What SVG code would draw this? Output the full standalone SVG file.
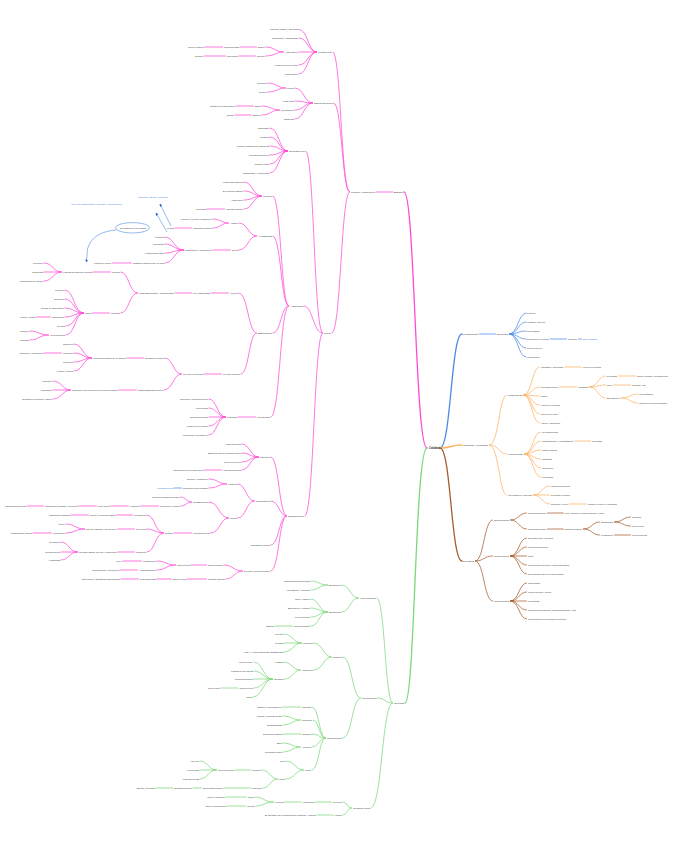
<svg xmlns="http://www.w3.org/2000/svg" width="698" height="848" viewBox="0 0 698 848">
<defs>
<style>
.t text{font-family:"Liberation Sans",Arial,sans-serif;font-size:2.5px;fill:#333}
.t .bt{fill:#3b7ddd}
.t .root{font-size:2.8px;font-weight:bold;fill:#222}
#connectors path{fill:none;stroke-width:.75;stroke-linecap:round}
#connectors .k{stroke-width:1.3}
.m path{stroke:#ff4ad6}
.b path{stroke:#4a8be8}
.o path{stroke:#ffb264}
.w path{stroke:#a85c2c}
.g path{stroke:#7ad87a}
.ann{fill:none;stroke:#4a8be8;stroke-width:.6}
</style>
<marker id="ab" viewBox="0 0 6 6" refX="5" refY="3" markerWidth="5" markerHeight="5" orient="auto"><path d="M0 0L6 3L0 6z" fill="#2d6fd8"/></marker>
</defs>
<rect width="698" height="848" fill="#fff"/>
<g id="connectors">
<g class="m">
<path class="k" d="M427 448C415 448 415 192 404 192"/>
<path d="M376 192H393"/>
<path d="M333 52C341 52 341 192 349.5 192"/>
<path d="M334 103C342 103 342 192 349.5 192"/>
<path d="M332 333C341 333 341 192 349.5 192"/>
<path d="M299 29.5C308 29.5 308 52 316.5 52"/>
<path d="M299 38C308 38 308 52 316.5 52"/>
<path d="M299 52H316.5"/>
<path d="M299 65C308 65 308 52 316.5 52"/>
<path d="M299 74C308 74 308 52 316.5 52"/>
<path d="M266 47C275 47 275 52 283.5 52"/>
<path d="M266 56C275 56 275 52 283.5 52"/>
<path d="M240 47H256.5"/>
<path d="M205 47H222.5"/>
<path d="M239 56H255.5"/>
<path d="M204 56H225.5"/>
<path d="M295 88C304 88 304 103 312.5 103"/>
<path d="M295 101C304 101 304 103 312.5 103"/>
<path d="M295 110C304 110 304 103 312.5 103"/>
<path d="M295 119C304 119 304 103 312.5 103"/>
<path d="M268 83C277 83 277 88 285.5 88"/>
<path d="M268 92C277 92 277 88 285.5 88"/>
<path d="M262 106C271 106 271 110 279.5 110"/>
<path d="M262 115C271 115 271 110 279.5 110"/>
<path d="M236 106H253.5"/>
<path d="M235 115H251.5"/>
<path d="M306 151C314 151 314 333 322.5 333"/>
<path d="M304 306C313 306 313 333 322.5 333"/>
<path d="M305 516C314 516 314 333 322.5 333"/>
<path d="M270 128C279 128 279 151 287.5 151"/>
<path d="M270 137C279 137 279 151 287.5 151"/>
<path d="M270 146C279 146 279 151 287.5 151"/>
<path d="M270 155C279 155 279 151 287.5 151"/>
<path d="M270 164C279 164 279 151 287.5 151"/>
<path d="M270 173C279 173 279 151 287.5 151"/>
<path d="M273 196C281 196 281 306 288.5 306"/>
<path d="M273 236C281 236 281 306 288.5 306"/>
<path d="M273 333C281 333 281 306 288.5 306"/>
<path d="M271 417C280 417 280 306 288.5 306"/>
<path d="M244 182C253 182 253 196 261.5 196"/>
<path d="M244 191C253 191 253 196 261.5 196"/>
<path d="M244 200C253 200 253 196 261.5 196"/>
<path d="M244 209C253 209 253 196 261.5 196"/>
<path d="M207 209H224.5"/>
<path d="M239 223C248 223 248 236 256.5 236"/>
<path d="M239 250C248 250 248 236 256.5 236"/>
<path d="M213 219C221 219 221 223 228.5 223"/>
<path d="M213 228C221 228 221 223 228.5 223"/>
<path d="M175 228H191.5"/>
<path d="M213 250H230.5"/>
<path d="M165 237C174 237 174 250 183.5 250"/>
<path d="M165 244C174 244 174 250 183.5 250"/>
<path d="M165 253C174 253 174 250 183.5 250"/>
<path d="M165 263C174 263 174 250 183.5 250"/>
<path d="M112 263H131.5"/>
<path d="M239 293C248 293 248 333 256.5 333"/>
<path d="M241 374C249 374 249 333 256.5 333"/>
<path d="M211 293H228.5"/>
<path d="M175 293H191.5"/>
<path d="M121 272C129 272 129 293 137.5 293"/>
<path d="M121 313C129 313 129 293 137.5 293"/>
<path d="M93 272H110.5"/>
<path d="M44 263C53 263 53 272 61.5 272"/>
<path d="M44 272H61.5"/>
<path d="M44 281C53 281 53 272 61.5 272"/>
<path d="M92 313H109.5"/>
<path d="M65 290C74 290 74 313 83.5 313"/>
<path d="M65 299C74 299 74 313 83.5 313"/>
<path d="M65 308C74 308 74 313 83.5 313"/>
<path d="M65 317C74 317 74 313 83.5 313"/>
<path d="M66 326C75 326 75 313 83.5 313"/>
<path d="M66 335C75 335 75 313 83.5 313"/>
<path d="M36 317H50.5"/>
<path d="M30 331C39 331 39 335 48.5 335"/>
<path d="M30 340C39 340 39 335 48.5 335"/>
<path d="M204 374H221.5"/>
<path d="M165 358C173 358 173 374 181.5 374"/>
<path d="M164 390C173 390 173 374 181.5 374"/>
<path d="M127 358H143.5"/>
<path d="M74 344C83 344 83 358 91.5 358"/>
<path d="M74 353C83 353 83 358 91.5 358"/>
<path d="M74 362C83 362 83 358 91.5 358"/>
<path d="M74 371C83 371 83 358 91.5 358"/>
<path d="M44 353H61.5"/>
<path d="M119 390H136.5"/>
<path d="M53 381C62 381 62 390 70.5 390"/>
<path d="M53 390H70.5"/>
<path d="M53 399C62 399 62 390 70.5 390"/>
<path d="M238 417H255.5"/>
<path d="M209 399C217 399 217 417 225.5 417"/>
<path d="M209 408C217 408 217 417 225.5 417"/>
<path d="M209 417H225.5"/>
<path d="M209 426C217 426 217 417 225.5 417"/>
<path d="M209 435C217 435 217 417 225.5 417"/>
<path d="M271 457C279 457 279 516 286.5 516"/>
<path d="M271 501C279 501 279 516 286.5 516"/>
<path d="M271 545C279 545 279 516 286.5 516"/>
<path d="M271 571C279 571 279 516 286.5 516"/>
<path d="M242 444C250 444 250 457 258.5 457"/>
<path d="M242 453C250 453 250 457 258.5 457"/>
<path d="M242 462C250 462 250 457 258.5 457"/>
<path d="M242 470C250 470 250 457 258.5 457"/>
<path d="M204 470H221.5"/>
<path d="M238 484C246 484 246 501 254.5 501"/>
<path d="M238 518C246 518 246 501 254.5 501"/>
<path d="M209 479C218 479 218 484 226.5 484"/>
<path d="M209 488C218 488 218 484 226.5 484"/>
<path d="M209 502C219 502 219 518 228.5 518"/>
<path d="M211 533C220 533 220 518 228.5 518"/>
<path d="M181 497C186 497 186 502 191.5 502"/>
<path d="M181 506C186 506 186 502 191.5 502"/>
<path d="M141 506H158.5"/>
<path d="M111 506H128.5"/>
<path d="M79 506H96.5"/>
<path d="M27 506H43.5"/>
<path d="M174 533H191.5"/>
<path d="M147 515C155 515 155 533 163.5 533"/>
<path d="M147 529C155 529 155 533 163.5 533"/>
<path d="M147 552C155 552 155 533 163.5 533"/>
<path d="M116 515H132.5"/>
<path d="M71 515H88.5"/>
<path d="M118 529H134.5"/>
<path d="M66 524C75 524 75 529 84.5 529"/>
<path d="M66 533C75 533 75 529 84.5 529"/>
<path d="M33 533H51.5"/>
<path d="M118 552H134.5"/>
<path d="M61 542C69 542 69 552 77.5 552"/>
<path d="M61 552H77.5"/>
<path d="M61 560C69 560 69 552 77.5 552"/>
<path d="M224 565C233 565 233 571 242.5 571"/>
<path d="M226 579C234 579 234 571 242.5 571"/>
<path d="M191 565H206.5"/>
<path d="M157 561C166 561 166 565 175.5 565"/>
<path d="M157 570C166 570 166 565 175.5 565"/>
<path d="M123 561H141.5"/>
<path d="M120 570H137.5"/>
<path d="M187 579H206.5"/>
<path d="M157 579H171.5"/>
<path d="M121 579H138.5"/>
</g>
<g class="g">
<path class="k" d="M427 448C415 448 415 703 405 703"/>
<path d="M377 598C385 598 385 703 392.5 703"/>
<path d="M378 698C385 698 385 703 392.5 703"/>
<path d="M371 808C382 808 382 703 392.5 703"/>
<path d="M342 585C350 585 350 598 358.5 598"/>
<path d="M342 612C350 612 350 598 358.5 598"/>
<path d="M311 581C319 581 319 585 327.5 585"/>
<path d="M311 590C319 590 319 585 327.5 585"/>
<path d="M311 599C319 599 319 612 327.5 612"/>
<path d="M311 608C319 608 319 612 327.5 612"/>
<path d="M311 617C319 617 319 612 327.5 612"/>
<path d="M311 626C319 626 319 612 327.5 612"/>
<path d="M275 626H292.5"/>
<path d="M343 657C352 657 352 698 360.5 698"/>
<path d="M343 738C352 738 352 698 360.5 698"/>
<path d="M314 643C323 643 323 657 331.5 657"/>
<path d="M314 670C323 670 323 657 331.5 657"/>
<path d="M284 634C293 634 293 643 301.5 643"/>
<path d="M284 643H301.5"/>
<path d="M284 652C293 652 293 643 301.5 643"/>
<path d="M284 662C292 662 292 670 300.5 670"/>
<path d="M285 679C293 679 293 670 300.5 670"/>
<path d="M254 662C263 662 263 679 272.5 679"/>
<path d="M254 671C263 671 263 679 272.5 679"/>
<path d="M254 679H272.5"/>
<path d="M254 688C263 688 263 679 272.5 679"/>
<path d="M253 697C263 697 263 679 272.5 679"/>
<path d="M221 688H237.5"/>
<path d="M312 707C319 707 319 738 325.5 738"/>
<path d="M313 720C319 720 319 738 325.5 738"/>
<path d="M312 734C319 734 319 738 325.5 738"/>
<path d="M312 747C319 747 319 738 325.5 738"/>
<path d="M312 770C319 770 319 738 325.5 738"/>
<path d="M283 707H300.5"/>
<path d="M283 716C292 716 292 720 300.5 720"/>
<path d="M283 725C292 725 292 720 300.5 720"/>
<path d="M284 734H301.5"/>
<path d="M283 743C292 743 292 747 300.5 747"/>
<path d="M283 752C292 752 292 747 300.5 747"/>
<path d="M286 761C295 761 295 770 303.5 770"/>
<path d="M286 779C295 779 295 770 303.5 770"/>
<path d="M262 770C270 770 270 779 277.5 779"/>
<path d="M263 788C270 788 270 779 277.5 779"/>
<path d="M235 770H250.5"/>
<path d="M200 761C208 761 208 770 216.5 770"/>
<path d="M200 770H216.5"/>
<path d="M200 779C208 779 208 770 216.5 770"/>
<path d="M224 788H250.5"/>
<path d="M193 788H201.5"/>
<path d="M156 788H172.5"/>
<path d="M343 802C347 802 347 808 351.5 808"/>
<path d="M343 815C347 815 347 808 351.5 808"/>
<path d="M316 802H331.5"/>
<path d="M285 802H301.5"/>
<path d="M255 797C264 797 264 802 273.5 802"/>
<path d="M256 806C264 806 264 802 273.5 802"/>
<path d="M226 797H246.5"/>
<path d="M227 806H245.5"/>
<path d="M317 815H333.5"/>
</g>
<g class="b">
<path class="k" d="M440 448C451 448 451 334 462 334"/>
<path d="M479.5 334H495.5"/>
<path d="M509.5 334C518 334 518 313 526 313"/>
<path d="M509.5 334C518 334 518 322 526 322"/>
<path d="M509.5 334C518 334 518 331 526 331"/>
<path d="M509.5 334C518 334 518 339 526 339"/>
<path d="M509.5 334C518 334 518 348 526 348"/>
<path d="M509.5 334C518 334 518 357 526 357"/>
<path d="M550.5 339H566.5"/>
<path d="M578.5 339H581.5"/>
<path d="M174 488H181.5"/>
</g>
<g class="o">
<path class="k" d="M440 448C451 448 451 445 462 445"/>
<path d="M489.5 445C499 445 499 395 506.5 395"/>
<path d="M489.5 445C499 445 499 454 506.5 454"/>
<path d="M489.5 445C499 445 499 495 506.5 495"/>
<path d="M523.5 395C532 395 532 367 539.5 367"/>
<path d="M523.5 395C532 395 532 387 539.5 387"/>
<path d="M523.5 395C532 395 532 396 539.5 396"/>
<path d="M523.5 395C532 395 532 405 539.5 405"/>
<path d="M523.5 395C532 395 532 414 539.5 414"/>
<path d="M523.5 395C532 395 532 423 539.5 423"/>
<path d="M564.5 367H581.5"/>
<path d="M559.5 387H576.5"/>
<path d="M589.5 387C598 387 598 376 605.5 376"/>
<path d="M589.5 387C598 387 598 385 605.5 385"/>
<path d="M589.5 387C598 387 598 398 605.5 398"/>
<path d="M618.5 376H635.5"/>
<path d="M613.5 385H630.5"/>
<path d="M621.5 398C630 398 630 394 637.5 394"/>
<path d="M621.5 398C630 398 630 403 637.5 403"/>
<path d="M524.5 454C533 454 533 432 540.5 432"/>
<path d="M524.5 454C533 454 533 441 540.5 441"/>
<path d="M524.5 454C533 454 533 450 540.5 450"/>
<path d="M524.5 454C533 454 533 459 540.5 459"/>
<path d="M524.5 454C533 454 533 468 540.5 468"/>
<path d="M524.5 454C533 454 533 477 540.5 477"/>
<path d="M574.5 441H590.5"/>
<path d="M533.5 495C542 495 542 486 549.5 486"/>
<path d="M533.5 495H549.5"/>
<path d="M533.5 495C542 495 542 504 549.5 504"/>
<path d="M569.5 504H586.5"/>
</g>
<g class="w">
<path class="k" d="M440 448C451 448 451 561 462 561"/>
<path d="M475.5 561C484 561 484 520 492.5 520"/>
<path d="M475.5 561C484 561 484 556 492.5 556"/>
<path d="M475.5 561C484 561 484 601 492.5 601"/>
<path d="M510.5 520C519 520 519 513 526.5 513"/>
<path d="M510.5 520C519 520 519 529 526.5 529"/>
<path d="M547.5 513H563.5"/>
<path d="M547.5 529H563.5"/>
<path d="M583.5 529C592 529 592 522 599.5 522"/>
<path d="M583.5 529C592 529 592 535 599.5 535"/>
<path d="M614.5 522C623 522 623 517 630.5 517"/>
<path d="M614.5 522C623 522 623 526 630.5 526"/>
<path d="M614.5 535H630.5"/>
<path d="M510.5 556C519 556 519 538 526.5 538"/>
<path d="M510.5 556C519 556 519 547 526.5 547"/>
<path d="M510.5 556H526.5"/>
<path d="M510.5 556C519 556 519 565 526.5 565"/>
<path d="M510.5 556C519 556 519 574 526.5 574"/>
<path d="M510.5 601C519 601 519 583 526.5 583"/>
<path d="M510.5 601C519 601 519 592 526.5 592"/>
<path d="M510.5 601H526.5"/>
<path d="M510.5 601C519 601 519 610 526.5 610"/>
<path d="M510.5 601C519 601 519 619 526.5 619"/>
</g>
</g>
<g id="annotations">
<ellipse class="ann" cx="132.5" cy="227.8" rx="17" ry="5.2"/>
<path class="ann" d="M116 230C103 231 91 236 87.5 249L86.5 262" marker-end="url(#ab)"/>
<path class="ann" d="M171 226L160 204" marker-end="url(#ab)"/>
<path class="ann" d="M167 232L156 213" marker-end="url(#ab)"/>
</g>
<g id="nodes" class="t">
<g id="root"><text class="root" x="429" y="449" textLength="11" lengthAdjust="spacingAndGlyphs">Ciudadanía</text></g>
<g id="m1"><text x="394" y="192.9" textLength="9" lengthAdjust="spacingAndGlyphs">Estado</text></g>
<g id="m2"><text x="351" y="192.9" textLength="24" lengthAdjust="spacingAndGlyphs">políticas y organización</text></g>
<g id="m3"><text x="318" y="52.9" textLength="14" lengthAdjust="spacingAndGlyphs">Constituyente</text></g>
<g id="m3a"><text x="270" y="30.4" textLength="28" lengthAdjust="spacingAndGlyphs">Más allá: estado y sociedad</text></g>
<g id="m3b"><text x="272" y="38.9" textLength="26" lengthAdjust="spacingAndGlyphs">significado y significante</text></g>
<g id="m3c"><text x="285" y="52.9" textLength="13" lengthAdjust="spacingAndGlyphs">Ambientación</text></g>
<g id="m3c1"><text x="258" y="47.9" textLength="7" lengthAdjust="spacingAndGlyphs">Difícil</text></g>
<g id="m3c1a"><text x="224" y="47.9" textLength="15" lengthAdjust="spacingAndGlyphs">gobernabilidad</text></g>
<g id="m3c1b"><text x="188" y="47.9" textLength="16" lengthAdjust="spacingAndGlyphs">lógica de resistencia</text></g>
<g id="m3c2"><text x="257" y="56.9" textLength="8" lengthAdjust="spacingAndGlyphs">Eficiente</text></g>
<g id="m3c2a"><text x="227" y="56.9" textLength="11" lengthAdjust="spacingAndGlyphs">gobernanza</text></g>
<g id="m3c2b"><text x="195" y="56.9" textLength="8" lengthAdjust="spacingAndGlyphs">Regulador</text></g>
<g id="m3d"><text x="275" y="65.9" textLength="23" lengthAdjust="spacingAndGlyphs">relación teoría del poder</text></g>
<g id="m3e"><text x="285" y="74.9" textLength="13" lengthAdjust="spacingAndGlyphs">consolidación</text></g>
<g id="m4"><text x="314" y="103.9" textLength="19" lengthAdjust="spacingAndGlyphs">Estructuras sociales</text></g>
<g id="m4a"><text x="287" y="88.9" textLength="7" lengthAdjust="spacingAndGlyphs">sectores</text></g>
<g id="m4a1"><text x="257" y="83.9" textLength="10" lengthAdjust="spacingAndGlyphs">acciones</text></g>
<g id="m4a2"><text x="259" y="92.9" textLength="8" lengthAdjust="spacingAndGlyphs">formación</text></g>
<g id="m4b"><text x="283" y="101.9" textLength="11" lengthAdjust="spacingAndGlyphs">Más allá</text></g>
<g id="m4c"><text x="281" y="110.9" textLength="13" lengthAdjust="spacingAndGlyphs">Implementación</text></g>
<g id="m4c1"><text x="255" y="106.9" textLength="6" lengthAdjust="spacingAndGlyphs">Ética</text></g>
<g id="m4c1a"><text x="210" y="106.9" textLength="25" lengthAdjust="spacingAndGlyphs">gestión en lógica social</text></g>
<g id="m4c2"><text x="253" y="115.9" textLength="8" lengthAdjust="spacingAndGlyphs">Difícil</text></g>
<g id="m4c2a"><text x="227" y="115.9" textLength="7" lengthAdjust="spacingAndGlyphs">agente</text></g>
<g id="m4d"><text x="284" y="119.9" textLength="10" lengthAdjust="spacingAndGlyphs">Sistema</text></g>
<g id="m5"><text x="324" y="333.9" textLength="7" lengthAdjust="spacingAndGlyphs">Sujeto</text></g>
<g id="m6"><text x="289" y="151.9" textLength="16" lengthAdjust="spacingAndGlyphs">Sociedad civil</text></g>
<g id="m6a"><text x="258" y="128.9" textLength="11" lengthAdjust="spacingAndGlyphs">Regulador</text></g>
<g id="m6b"><text x="260" y="137.9" textLength="9" lengthAdjust="spacingAndGlyphs">Identidad</text></g>
<g id="m6c"><text x="237" y="146.9" textLength="32" lengthAdjust="spacingAndGlyphs">Lucha: conflicto por agencias</text></g>
<g id="m6d"><text x="249" y="155.9" textLength="20" lengthAdjust="spacingAndGlyphs">Más agencias sociales</text></g>
<g id="m6e"><text x="254" y="164.9" textLength="15" lengthAdjust="spacingAndGlyphs">Ventaja de poder</text></g>
<g id="m6f"><text x="243" y="173.9" textLength="26" lengthAdjust="spacingAndGlyphs">significado y referencia</text></g>
<g id="m7"><text x="290" y="306.9" textLength="13" lengthAdjust="spacingAndGlyphs">Agencia</text></g>
<g id="m8"><text x="263" y="196.9" textLength="9" lengthAdjust="spacingAndGlyphs">procesos</text></g>
<g id="m8a"><text x="223" y="182.9" textLength="20" lengthAdjust="spacingAndGlyphs">Más participación</text></g>
<g id="m8b"><text x="223" y="191.9" textLength="20" lengthAdjust="spacingAndGlyphs">El principal agente</text></g>
<g id="m8c"><text x="231" y="200.9" textLength="12" lengthAdjust="spacingAndGlyphs">Ámbito simple</text></g>
<g id="m8d"><text x="226" y="209.9" textLength="17" lengthAdjust="spacingAndGlyphs">resultado informe</text></g>
<g id="m8d1"><text x="195" y="209.9" textLength="11" lengthAdjust="spacingAndGlyphs">Agencias</text></g>
<g id="m9"><text x="258" y="236.9" textLength="14" lengthAdjust="spacingAndGlyphs">Ámbitos</text></g>
<g id="m10"><text x="230" y="223.9" textLength="8" lengthAdjust="spacingAndGlyphs">Ámbito</text></g>
<g id="m10a"><text x="181" y="219.9" textLength="31" lengthAdjust="spacingAndGlyphs">genérico, expresión, organización</text></g>
<g id="m10b"><text x="193" y="228.9" textLength="19" lengthAdjust="spacingAndGlyphs">organización interna</text></g>
<g id="m10b1"><text x="167" y="228.9" textLength="7" lengthAdjust="spacingAndGlyphs">Políticas</text></g>
<g id="a1"><text x="120" y="228.7" textLength="26" lengthAdjust="spacingAndGlyphs">Diversidad de la diversidad</text></g>
<g id="a2"><text class="bt" x="138" y="197.9" textLength="30" lengthAdjust="spacingAndGlyphs">Inmerso, interno, atención</text></g>
<g id="a3"><text class="bt" x="70" y="204.9" textLength="52" lengthAdjust="spacingAndGlyphs">Apoyo de significación, análisis y reproducción</text></g>
<g id="m11"><text x="232" y="250.9" textLength="6" lengthAdjust="spacingAndGlyphs">Brecha</text></g>
<g id="m11a"><text x="185" y="250.9" textLength="27" lengthAdjust="spacingAndGlyphs">globalización y participación</text></g>
<g id="m11a1"><text x="155" y="237.9" textLength="9" lengthAdjust="spacingAndGlyphs">Ideologías</text></g>
<g id="m11a2"><text x="153" y="244.9" textLength="11" lengthAdjust="spacingAndGlyphs">Caso Bautista</text></g>
<g id="m11a3"><text x="145" y="253.9" textLength="19" lengthAdjust="spacingAndGlyphs">Fundamentos de ética</text></g>
<g id="m11a4"><text x="133" y="263.9" textLength="31" lengthAdjust="spacingAndGlyphs">gestión pública de la vida</text></g>
<g id="m11a4a"><text x="94" y="263.9" textLength="17" lengthAdjust="spacingAndGlyphs">Formación de contexto</text></g>
<g id="m12"><text x="258" y="333.9" textLength="14" lengthAdjust="spacingAndGlyphs">Estructura</text></g>
<g id="m13"><text x="230" y="293.9" textLength="8" lengthAdjust="spacingAndGlyphs">Lo social</text></g>
<g id="m13a"><text x="193" y="293.9" textLength="17" lengthAdjust="spacingAndGlyphs">Lo ubicado</text></g>
<g id="m13b"><text x="139" y="293.9" textLength="35" lengthAdjust="spacingAndGlyphs">Más significativo, más sentido</text></g>
<g id="m14"><text x="112" y="272.9" textLength="8" lengthAdjust="spacingAndGlyphs">Identidad</text></g>
<g id="m14a"><text x="63" y="272.9" textLength="29" lengthAdjust="spacingAndGlyphs">Formas sociales de grupos</text></g>
<g id="m14a1"><text x="33" y="263.9" textLength="10" lengthAdjust="spacingAndGlyphs">Pertenencia</text></g>
<g id="m14a2"><text x="32" y="272.9" textLength="11" lengthAdjust="spacingAndGlyphs">Continuidad</text></g>
<g id="m14a3"><text x="20" y="281.9" textLength="23" lengthAdjust="spacingAndGlyphs">Significados del mundo</text></g>
<g id="m15"><text x="111" y="313.9" textLength="9" lengthAdjust="spacingAndGlyphs">Identidad</text></g>
<g id="m15a"><text x="85" y="313.9" textLength="6" lengthAdjust="spacingAndGlyphs">Valores</text></g>
<g id="m15a1"><text x="55" y="290.9" textLength="9" lengthAdjust="spacingAndGlyphs">Permanencia</text></g>
<g id="m15a2"><text x="54" y="299.9" textLength="10" lengthAdjust="spacingAndGlyphs">Continuidad</text></g>
<g id="m15a3"><text x="41" y="308.9" textLength="23" lengthAdjust="spacingAndGlyphs">Sentido de participación</text></g>
<g id="m15a4"><text x="52" y="317.9" textLength="12" lengthAdjust="spacingAndGlyphs">Tradiciones</text></g>
<g id="m15a4a"><text x="20" y="317.9" textLength="15" lengthAdjust="spacingAndGlyphs">Lenguaje y arraigo</text></g>
<g id="m15a5"><text x="57" y="326.9" textLength="8" lengthAdjust="spacingAndGlyphs">Intereses</text></g>
<g id="m15a6"><text x="50" y="335.9" textLength="15" lengthAdjust="spacingAndGlyphs">Valores personales</text></g>
<g id="m15a6a"><text x="20" y="331.9" textLength="9" lengthAdjust="spacingAndGlyphs">Relaciones</text></g>
<g id="m15a6b"><text x="20" y="340.9" textLength="9" lengthAdjust="spacingAndGlyphs">Desigualdad</text></g>
<g id="m16"><text x="223" y="374.9" textLength="17" lengthAdjust="spacingAndGlyphs">La vida cultural</text></g>
<g id="m16a"><text x="183" y="374.9" textLength="20" lengthAdjust="spacingAndGlyphs">La vida en sociedad</text></g>
<g id="m17"><text x="145" y="358.9" textLength="19" lengthAdjust="spacingAndGlyphs">Desarrollo cultural</text></g>
<g id="m17a"><text x="93" y="358.9" textLength="33" lengthAdjust="spacingAndGlyphs">Formas sociales de la cultura</text></g>
<g id="m17a1"><text x="63" y="344.9" textLength="10" lengthAdjust="spacingAndGlyphs">Tradiciones</text></g>
<g id="m17a2"><text x="63" y="353.9" textLength="10" lengthAdjust="spacingAndGlyphs">Costumbres</text></g>
<g id="m17a2a"><text x="20" y="353.9" textLength="23" lengthAdjust="spacingAndGlyphs">Educación y organización</text></g>
<g id="m17a3"><text x="63" y="362.9" textLength="10" lengthAdjust="spacingAndGlyphs">La sociedad</text></g>
<g id="m17a4"><text x="57" y="371.9" textLength="16" lengthAdjust="spacingAndGlyphs">Lenguaje y símbolos</text></g>
<g id="m18"><text x="138" y="390.9" textLength="25" lengthAdjust="spacingAndGlyphs">Responsabilidad social</text></g>
<g id="m18a"><text x="72" y="390.9" textLength="46" lengthAdjust="spacingAndGlyphs">Conjunto de valores a través de los cuales se organiza</text></g>
<g id="m18a1"><text x="42" y="381.9" textLength="10" lengthAdjust="spacingAndGlyphs">Mecanismos</text></g>
<g id="m18a2"><text x="41" y="390.9" textLength="11" lengthAdjust="spacingAndGlyphs">Costumbres</text></g>
<g id="m18a3"><text x="22" y="399.9" textLength="30" lengthAdjust="spacingAndGlyphs">Igualdad de derechos y justicia</text></g>
<g id="m19"><text x="257" y="417.9" textLength="13" lengthAdjust="spacingAndGlyphs">Colectividad</text></g>
<g id="m19a"><text x="227" y="417.9" textLength="10" lengthAdjust="spacingAndGlyphs">Comunidad</text></g>
<g id="m19a1"><text x="180" y="399.9" textLength="28" lengthAdjust="spacingAndGlyphs">Conciencia y organización social</text></g>
<g id="m19a2"><text x="196" y="408.9" textLength="12" lengthAdjust="spacingAndGlyphs">La sociedad</text></g>
<g id="m19a3"><text x="189" y="417.9" textLength="19" lengthAdjust="spacingAndGlyphs">Agrupación social</text></g>
<g id="m19a4"><text x="187" y="426.9" textLength="21" lengthAdjust="spacingAndGlyphs">Relación con el entorno</text></g>
<g id="m19a5"><text x="183" y="435.9" textLength="25" lengthAdjust="spacingAndGlyphs">Comunidad y sociedad civil</text></g>
<g id="m20"><text x="288" y="516.9" textLength="16" lengthAdjust="spacingAndGlyphs">Organización</text></g>
<g id="m21"><text x="260" y="457.9" textLength="10" lengthAdjust="spacingAndGlyphs">Instituciones</text></g>
<g id="m21a"><text x="226" y="444.9" textLength="15" lengthAdjust="spacingAndGlyphs">Otras ideológicas</text></g>
<g id="m21b"><text x="208" y="453.9" textLength="33" lengthAdjust="spacingAndGlyphs">Establecimiento de la estructura social</text></g>
<g id="m21c"><text x="224" y="462.9" textLength="17" lengthAdjust="spacingAndGlyphs">Relación con la teoría</text></g>
<g id="m21d"><text x="223" y="470.9" textLength="18" lengthAdjust="spacingAndGlyphs">Valores sociales</text></g>
<g id="m21d1"><text x="173" y="470.9" textLength="30" lengthAdjust="spacingAndGlyphs">Independencia de la crisis social</text></g>
<g id="m22"><text x="256" y="501.9" textLength="14" lengthAdjust="spacingAndGlyphs">Regulación</text></g>
<g id="m23"><text x="228" y="484.9" textLength="9" lengthAdjust="spacingAndGlyphs">Políticas</text></g>
<g id="m23a"><text x="187" y="479.9" textLength="21" lengthAdjust="spacingAndGlyphs">gobierno y organización</text></g>
<g id="m23b"><text x="183" y="488.9" textLength="25" lengthAdjust="spacingAndGlyphs">Organización interna del Estado</text></g>
<g id="m23b1"><text class="bt" x="157" y="488.9" textLength="16" lengthAdjust="spacingAndGlyphs">constitucional</text></g>
<g id="m24"><text x="230" y="518.9" textLength="7" lengthAdjust="spacingAndGlyphs">Normas</text></g>
<g id="m24a"><text x="193" y="502.9" textLength="15" lengthAdjust="spacingAndGlyphs">Constitución</text></g>
<g id="m24a1"><text x="152" y="497.9" textLength="28" lengthAdjust="spacingAndGlyphs">Principios del Estado democrático</text></g>
<g id="m24a2"><text x="160" y="506.9" textLength="20" lengthAdjust="spacingAndGlyphs">Principios de la Nación</text></g>
<g id="m24a2a"><text x="130" y="506.9" textLength="10" lengthAdjust="spacingAndGlyphs">Legislación</text></g>
<g id="m24a2b"><text x="98" y="506.9" textLength="12" lengthAdjust="spacingAndGlyphs">Poder Judicial</text></g>
<g id="m24a2c"><text x="45" y="506.9" textLength="33" lengthAdjust="spacingAndGlyphs">Organización del Estado y los pueblos</text></g>
<g id="m24a2d"><text x="5" y="506.9" textLength="21" lengthAdjust="spacingAndGlyphs">Organización nacional</text></g>
<g id="m24b"><text x="193" y="533.9" textLength="17" lengthAdjust="spacingAndGlyphs">Procedimiento legal</text></g>
<g id="m24b1"><text x="165" y="533.9" textLength="8" lengthAdjust="spacingAndGlyphs">Derecho</text></g>
<g id="m25"><text x="134" y="515.9" textLength="12" lengthAdjust="spacingAndGlyphs">Legislación</text></g>
<g id="m25a"><text x="90" y="515.9" textLength="25" lengthAdjust="spacingAndGlyphs">Derecho y principios del Estado</text></g>
<g id="m25b"><text x="49" y="515.9" textLength="21" lengthAdjust="spacingAndGlyphs">Organización legislativa</text></g>
<g id="m26"><text x="136" y="529.9" textLength="10" lengthAdjust="spacingAndGlyphs">Leyes</text></g>
<g id="m26a"><text x="86" y="529.9" textLength="31" lengthAdjust="spacingAndGlyphs">Derecho, garantías y derecho de ley</text></g>
<g id="m26a1"><text x="59" y="524.9" textLength="6" lengthAdjust="spacingAndGlyphs">Ejecutivo</text></g>
<g id="m26a2"><text x="53" y="533.9" textLength="12" lengthAdjust="spacingAndGlyphs">Jurisprudencia</text></g>
<g id="m26a2a"><text x="10" y="533.9" textLength="22" lengthAdjust="spacingAndGlyphs">Administración interna</text></g>
<g id="m27"><text x="136" y="552.9" textLength="10" lengthAdjust="spacingAndGlyphs">Participación</text></g>
<g id="m27a"><text x="79" y="552.9" textLength="38" lengthAdjust="spacingAndGlyphs">Sociedad, Estado, derecho y participación</text></g>
<g id="m27a1"><text x="49" y="542.9" textLength="11" lengthAdjust="spacingAndGlyphs">Inconstitucional</text></g>
<g id="m27a2"><text x="45" y="552.9" textLength="15" lengthAdjust="spacingAndGlyphs">Interdependencia</text></g>
<g id="m27a3"><text x="49" y="560.9" textLength="11" lengthAdjust="spacingAndGlyphs">Legitimidad</text></g>
<g id="m28"><text x="250" y="545.9" textLength="20" lengthAdjust="spacingAndGlyphs">Administración pública</text></g>
<g id="m29"><text x="244" y="571.9" textLength="26" lengthAdjust="spacingAndGlyphs">Derechos y deberes humanos</text></g>
<g id="m29a"><text x="208" y="565.9" textLength="15" lengthAdjust="spacingAndGlyphs">Sistema legislativo</text></g>
<g id="m29a1"><text x="177" y="565.9" textLength="13" lengthAdjust="spacingAndGlyphs">Deberes sociales</text></g>
<g id="m29a1a"><text x="143" y="561.9" textLength="13" lengthAdjust="spacingAndGlyphs">Constitución</text></g>
<g id="m29a1b"><text x="116" y="561.9" textLength="6" lengthAdjust="spacingAndGlyphs">La ley</text></g>
<g id="m29a1c"><text x="139" y="570.9" textLength="17" lengthAdjust="spacingAndGlyphs">Administración</text></g>
<g id="m29a1d"><text x="92" y="570.9" textLength="27" lengthAdjust="spacingAndGlyphs">Los derechos y los deberes</text></g>
<g id="m29b"><text x="208" y="579.9" textLength="17" lengthAdjust="spacingAndGlyphs">Control social</text></g>
<g id="m29b1"><text x="173" y="579.9" textLength="13" lengthAdjust="spacingAndGlyphs">Estado de derecho</text></g>
<g id="m29b2"><text x="140" y="579.9" textLength="16" lengthAdjust="spacingAndGlyphs">Responsabilidad</text></g>
<g id="m29b3"><text x="82" y="579.9" textLength="38" lengthAdjust="spacingAndGlyphs">Derechos y garantías individuales</text></g>
<g id="g1"><text x="394" y="703.9" textLength="10" lengthAdjust="spacingAndGlyphs">Sociedad</text></g>
<g id="g2"><text x="360" y="598.9" textLength="16" lengthAdjust="spacingAndGlyphs">Vida cotidiana</text></g>
<g id="g2a"><text x="329" y="585.9" textLength="12" lengthAdjust="spacingAndGlyphs">Economía</text></g>
<g id="g2a1"><text x="284" y="581.9" textLength="26" lengthAdjust="spacingAndGlyphs">Organizaciones sociales</text></g>
<g id="g2a2"><text x="286" y="590.9" textLength="24" lengthAdjust="spacingAndGlyphs">Actividades y mercado</text></g>
<g id="g2b"><text x="329" y="612.9" textLength="12" lengthAdjust="spacingAndGlyphs">Educación</text></g>
<g id="g2b1"><text x="295" y="599.9" textLength="15" lengthAdjust="spacingAndGlyphs">Ocio y familia</text></g>
<g id="g2b2"><text x="288" y="608.9" textLength="22" lengthAdjust="spacingAndGlyphs">Educación y entorno</text></g>
<g id="g2b3"><text x="295" y="617.9" textLength="15" lengthAdjust="spacingAndGlyphs">La recreación</text></g>
<g id="g2b4"><text x="294" y="626.9" textLength="16" lengthAdjust="spacingAndGlyphs">Red educativa</text></g>
<g id="g2b4a"><text x="266" y="626.9" textLength="8" lengthAdjust="spacingAndGlyphs">Ocio</text></g>
<g id="g3"><text x="362" y="698.9" textLength="15" lengthAdjust="spacingAndGlyphs">Grupos sociales</text></g>
<g id="g3a"><text x="333" y="657.9" textLength="9" lengthAdjust="spacingAndGlyphs">Cultura</text></g>
<g id="g3a1"><text x="303" y="643.9" textLength="10" lengthAdjust="spacingAndGlyphs">Costumbres</text></g>
<g id="g3a1a"><text x="275" y="634.9" textLength="8" lengthAdjust="spacingAndGlyphs">Los ritos</text></g>
<g id="g3a1b"><text x="275" y="643.9" textLength="8" lengthAdjust="spacingAndGlyphs">Las fiestas</text></g>
<g id="g3a1c"><text x="243" y="652.9" textLength="40" lengthAdjust="spacingAndGlyphs">Arte y expresiones artísticas</text></g>
<g id="g3a2"><text x="302" y="670.9" textLength="11" lengthAdjust="spacingAndGlyphs">Tradiciones</text></g>
<g id="g3a2a"><text x="275" y="662.9" textLength="8" lengthAdjust="spacingAndGlyphs">Vestido</text></g>
<g id="g3a2b"><text x="274" y="679.9" textLength="10" lengthAdjust="spacingAndGlyphs">Religión</text></g>
<g id="g3a2b1"><text x="239" y="662.9" textLength="13" lengthAdjust="spacingAndGlyphs">Tradición religiosa</text></g>
<g id="g3a2b2"><text x="231" y="671.9" textLength="22" lengthAdjust="spacingAndGlyphs">Prácticas de las personas</text></g>
<g id="g3a2b3"><text x="235" y="679.9" textLength="18" lengthAdjust="spacingAndGlyphs">Culturas nacionales</text></g>
<g id="g3a2b4"><text x="239" y="688.9" textLength="14" lengthAdjust="spacingAndGlyphs">Valores criollos</text></g>
<g id="g3a2b4a"><text x="208" y="688.9" textLength="12" lengthAdjust="spacingAndGlyphs">Ideas de nación</text></g>
<g id="g3a2b5"><text x="246" y="697.9" textLength="6" lengthAdjust="spacingAndGlyphs">Mitos</text></g>
<g id="g3b"><text x="327" y="738.9" textLength="15" lengthAdjust="spacingAndGlyphs">Interacciones</text></g>
<g id="g3b1"><text x="302" y="707.9" textLength="9" lengthAdjust="spacingAndGlyphs">Conflicto</text></g>
<g id="g3b1a"><text x="257" y="707.9" textLength="25" lengthAdjust="spacingAndGlyphs">Cambio y sociedad civil</text></g>
<g id="g3b2"><text x="302" y="720.9" textLength="10" lengthAdjust="spacingAndGlyphs">Cooperación</text></g>
<g id="g3b2a"><text x="257" y="716.9" textLength="25" lengthAdjust="spacingAndGlyphs">Redes y acuerdo social</text></g>
<g id="g3b2b"><text x="267" y="725.9" textLength="15" lengthAdjust="spacingAndGlyphs">Solidaridad</text></g>
<g id="g3b3"><text x="303" y="734.9" textLength="8" lengthAdjust="spacingAndGlyphs">Diálogo</text></g>
<g id="g3b3a"><text x="263" y="734.9" textLength="20" lengthAdjust="spacingAndGlyphs">Relación cultural</text></g>
<g id="g3b4"><text x="302" y="747.9" textLength="9" lengthAdjust="spacingAndGlyphs">Asociación</text></g>
<g id="g3b4a"><text x="277" y="743.9" textLength="5" lengthAdjust="spacingAndGlyphs">Ética</text></g>
<g id="g3b4b"><text x="265" y="752.9" textLength="17" lengthAdjust="spacingAndGlyphs">Comunidad de agua</text></g>
<g id="g3b5"><text x="305" y="770.9" textLength="6" lengthAdjust="spacingAndGlyphs">Poder</text></g>
<g id="g3b5a"><text x="280" y="761.9" textLength="5" lengthAdjust="spacingAndGlyphs">Redes</text></g>
<g id="g3b5b"><text x="279" y="779.9" textLength="6" lengthAdjust="spacingAndGlyphs">Clases</text></g>
<g id="g3b5b1"><text x="252" y="770.9" textLength="9" lengthAdjust="spacingAndGlyphs">Jerarquía</text></g>
<g id="g3b5b1a"><text x="218" y="770.9" textLength="16" lengthAdjust="spacingAndGlyphs">Grupos de la sociedad</text></g>
<g id="g3b5b1a1"><text x="191" y="761.9" textLength="8" lengthAdjust="spacingAndGlyphs">Las élites</text></g>
<g id="g3b5b1a2"><text x="187" y="770.9" textLength="12" lengthAdjust="spacingAndGlyphs">Los empleados</text></g>
<g id="g3b5b1a3"><text x="183" y="779.9" textLength="16" lengthAdjust="spacingAndGlyphs">Las mayorías</text></g>
<g id="g3b5b2"><text x="252" y="788.9" textLength="10" lengthAdjust="spacingAndGlyphs">Desigualdades</text></g>
<g id="g3b5b2a"><text x="203" y="788.9" textLength="20" lengthAdjust="spacingAndGlyphs">Economías sociales</text></g>
<g id="g3b5b2b"><text x="174" y="788.9" textLength="18" lengthAdjust="spacingAndGlyphs">Globalización</text></g>
<g id="g3b5b2c"><text x="137" y="788.9" textLength="18" lengthAdjust="spacingAndGlyphs">Bienes y servicios</text></g>
<g id="g4"><text x="353" y="808.9" textLength="17" lengthAdjust="spacingAndGlyphs">Integración social</text></g>
<g id="g4a"><text x="333" y="802.9" textLength="9" lengthAdjust="spacingAndGlyphs">Relaciones</text></g>
<g id="g4a1"><text x="303" y="802.9" textLength="12" lengthAdjust="spacingAndGlyphs">Organización</text></g>
<g id="g4a1a"><text x="275" y="802.9" textLength="9" lengthAdjust="spacingAndGlyphs">Los grupos</text></g>
<g id="g4a1a1"><text x="248" y="797.9" textLength="6" lengthAdjust="spacingAndGlyphs">Roles</text></g>
<g id="g4a1a1a"><text x="207" y="797.9" textLength="18" lengthAdjust="spacingAndGlyphs">Valores y personalidad</text></g>
<g id="g4a1a2"><text x="247" y="806.9" textLength="8" lengthAdjust="spacingAndGlyphs">Individuo</text></g>
<g id="g4a1a2a"><text x="205" y="806.9" textLength="21" lengthAdjust="spacingAndGlyphs">Valores y grupos sociales</text></g>
<g id="g4b"><text x="335" y="815.9" textLength="7" lengthAdjust="spacingAndGlyphs">Cohesión</text></g>
<g id="g4b1"><text x="265" y="815.9" textLength="51" lengthAdjust="spacingAndGlyphs">El sentido de pertenencia cultural y social</text></g>
<g id="b1"><text x="463" y="334.9" textLength="15" lengthAdjust="spacingAndGlyphs">Fundamentos</text></g>
<g id="b2"><text x="497" y="334.9" textLength="11" lengthAdjust="spacingAndGlyphs">Elementos</text></g>
<g id="b2a"><text x="527" y="313.9" textLength="8" lengthAdjust="spacingAndGlyphs">Política</text></g>
<g id="b2b"><text x="527" y="322.9" textLength="18" lengthAdjust="spacingAndGlyphs">Identidad y conexión</text></g>
<g id="b2c"><text x="527" y="331.9" textLength="12" lengthAdjust="spacingAndGlyphs">Movilidad</text></g>
<g id="b2d"><text x="527" y="339.9" textLength="22" lengthAdjust="spacingAndGlyphs">Organización de la sociedad</text></g>
<g id="b2d1"><text x="568" y="339.9" textLength="9" lengthAdjust="spacingAndGlyphs">Contexto</text></g>
<g id="b2d2"><text class="bt" x="583" y="339.9" textLength="14" lengthAdjust="spacingAndGlyphs">Diversidad</text></g>
<g id="b2e"><text x="527" y="348.9" textLength="15" lengthAdjust="spacingAndGlyphs">Gestión de servicios</text></g>
<g id="b2f"><text x="527" y="357.9" textLength="13" lengthAdjust="spacingAndGlyphs">La socialización</text></g>
<g id="o1"><text x="463" y="445.9" textLength="25" lengthAdjust="spacingAndGlyphs">Identidad y pluralidad</text></g>
<g id="o2"><text x="508" y="395.9" textLength="14" lengthAdjust="spacingAndGlyphs">Perspectivas</text></g>
<g id="o2a"><text x="541" y="367.9" textLength="22" lengthAdjust="spacingAndGlyphs">Identidad y diversidad</text></g>
<g id="o2a1"><text x="583" y="367.9" textLength="18" lengthAdjust="spacingAndGlyphs">Teoría de la diversidad</text></g>
<g id="o2b"><text x="541" y="387.9" textLength="17" lengthAdjust="spacingAndGlyphs">Diversidad cultural</text></g>
<g id="o2b1"><text x="578" y="387.9" textLength="10" lengthAdjust="spacingAndGlyphs">Identidad</text></g>
<g id="o2b1a"><text x="607" y="376.9" textLength="10" lengthAdjust="spacingAndGlyphs">Diversidad</text></g>
<g id="o2b1a1"><text x="637" y="376.9" textLength="31" lengthAdjust="spacingAndGlyphs">Cultura, identidad y diversidad social</text></g>
<g id="o2b1b"><text x="607" y="385.9" textLength="5" lengthAdjust="spacingAndGlyphs">Cultura</text></g>
<g id="o2b1b1"><text x="632" y="385.9" textLength="14" lengthAdjust="spacingAndGlyphs">Identidad y tipo</text></g>
<g id="o2b1c"><text x="607" y="398.9" textLength="13" lengthAdjust="spacingAndGlyphs">Desarrollo</text></g>
<g id="o2b1c1"><text x="639" y="394.9" textLength="14" lengthAdjust="spacingAndGlyphs">Los culturales</text></g>
<g id="o2b1c2"><text x="639" y="403.9" textLength="28" lengthAdjust="spacingAndGlyphs">Idioma de la cultura comunitaria</text></g>
<g id="o2c"><text x="541" y="396.9" textLength="6" lengthAdjust="spacingAndGlyphs">Igualdad</text></g>
<g id="o2d"><text x="541" y="405.9" textLength="19" lengthAdjust="spacingAndGlyphs">Valores de la sociedad</text></g>
<g id="o2e"><text x="541" y="414.9" textLength="17" lengthAdjust="spacingAndGlyphs">Teorías de la cultura</text></g>
<g id="o2f"><text x="541" y="423.9" textLength="19" lengthAdjust="spacingAndGlyphs">Valores y participación</text></g>
<g id="o3"><text x="508" y="454.9" textLength="15" lengthAdjust="spacingAndGlyphs">Multiculturalidad</text></g>
<g id="o3a"><text x="542" y="432.9" textLength="16" lengthAdjust="spacingAndGlyphs">La multicultura</text></g>
<g id="o3b"><text x="542" y="441.9" textLength="31" lengthAdjust="spacingAndGlyphs">Inmigración y ciudadanía</text></g>
<g id="o3b1"><text x="592" y="441.9" textLength="10" lengthAdjust="spacingAndGlyphs">Mercantil</text></g>
<g id="o3c"><text x="542" y="450.9" textLength="15" lengthAdjust="spacingAndGlyphs">Nación diversa</text></g>
<g id="o3d"><text x="542" y="459.9" textLength="10" lengthAdjust="spacingAndGlyphs">Igualdad</text></g>
<g id="o3e"><text x="542" y="468.9" textLength="11" lengthAdjust="spacingAndGlyphs">Interculturalidad</text></g>
<g id="o3f"><text x="542" y="477.9" textLength="11" lengthAdjust="spacingAndGlyphs">La equidad</text></g>
<g id="o4"><text x="508" y="495.9" textLength="24" lengthAdjust="spacingAndGlyphs">Las identidades y la sociedad</text></g>
<g id="o4a"><text x="551" y="486.9" textLength="19" lengthAdjust="spacingAndGlyphs">Igualdad de derechos</text></g>
<g id="o4b"><text x="551" y="495.9" textLength="19" lengthAdjust="spacingAndGlyphs">Diversidad e inclusión</text></g>
<g id="o4c"><text x="551" y="504.9" textLength="17" lengthAdjust="spacingAndGlyphs">Discriminación y exclusión</text></g>
<g id="o4c1"><text x="588" y="504.9" textLength="29" lengthAdjust="spacingAndGlyphs">Causas de la pobreza y la desigualdad</text></g>
<g id="w1"><text x="463" y="561.9" textLength="11" lengthAdjust="spacingAndGlyphs">Diversidad</text></g>
<g id="w2"><text x="494" y="520.9" textLength="15" lengthAdjust="spacingAndGlyphs">Características</text></g>
<g id="w2a"><text x="528" y="513.9" textLength="18" lengthAdjust="spacingAndGlyphs">Componentes sociales</text></g>
<g id="w2a1"><text x="565" y="513.9" textLength="39" lengthAdjust="spacingAndGlyphs">Raza, costumbres, creencias, tradiciones y lengua</text></g>
<g id="w2b"><text x="528" y="529.9" textLength="18" lengthAdjust="spacingAndGlyphs">Componentes legales</text></g>
<g id="w2b1"><text x="565" y="529.9" textLength="17" lengthAdjust="spacingAndGlyphs">Estructura legislativa</text></g>
<g id="w2b1a"><text x="601" y="522.9" textLength="12" lengthAdjust="spacingAndGlyphs">Igualdad</text></g>
<g id="w2b1a1"><text x="632" y="517.9" textLength="9" lengthAdjust="spacingAndGlyphs">Identidad</text></g>
<g id="w2b1a2"><text x="632" y="526.9" textLength="12" lengthAdjust="spacingAndGlyphs">El bien común</text></g>
<g id="w2b1b"><text x="601" y="535.9" textLength="12" lengthAdjust="spacingAndGlyphs">Legislación</text></g>
<g id="w2b1b1"><text x="632" y="535.9" textLength="15" lengthAdjust="spacingAndGlyphs">Interdependencias</text></g>
<g id="w3"><text x="494" y="556.9" textLength="15" lengthAdjust="spacingAndGlyphs">Grupos étnicos</text></g>
<g id="w3a"><text x="528" y="538.9" textLength="25" lengthAdjust="spacingAndGlyphs">Diversidad étnica y derechos</text></g>
<g id="w3b"><text x="528" y="547.9" textLength="20" lengthAdjust="spacingAndGlyphs">Grupos afrodescendientes</text></g>
<g id="w3c"><text x="528" y="556.9" textLength="5" lengthAdjust="spacingAndGlyphs">Mapa</text></g>
<g id="w3d"><text x="528" y="565.9" textLength="41" lengthAdjust="spacingAndGlyphs">Convivencia pacífica e interculturalidad</text></g>
<g id="w3e"><text x="528" y="574.9" textLength="35" lengthAdjust="spacingAndGlyphs">Reconocimiento de la diversidad</text></g>
<g id="w4"><text x="494" y="601.9" textLength="15" lengthAdjust="spacingAndGlyphs">Grupos sociales</text></g>
<g id="w4a"><text x="528" y="583.9" textLength="12" lengthAdjust="spacingAndGlyphs">Capacidades</text></g>
<g id="w4b"><text x="528" y="592.9" textLength="23" lengthAdjust="spacingAndGlyphs">Grupos culturales y étnicos</text></g>
<g id="w4c"><text x="528" y="601.9" textLength="11" lengthAdjust="spacingAndGlyphs">La igualdad</text></g>
<g id="w4d"><text x="528" y="610.9" textLength="48" lengthAdjust="spacingAndGlyphs">Convivencia pacífica, interculturalidad y paz</text></g>
<g id="w4e"><text x="528" y="619.9" textLength="38" lengthAdjust="spacingAndGlyphs">Reconocimiento de la diversidad en educación</text></g>
</g>
</svg>
